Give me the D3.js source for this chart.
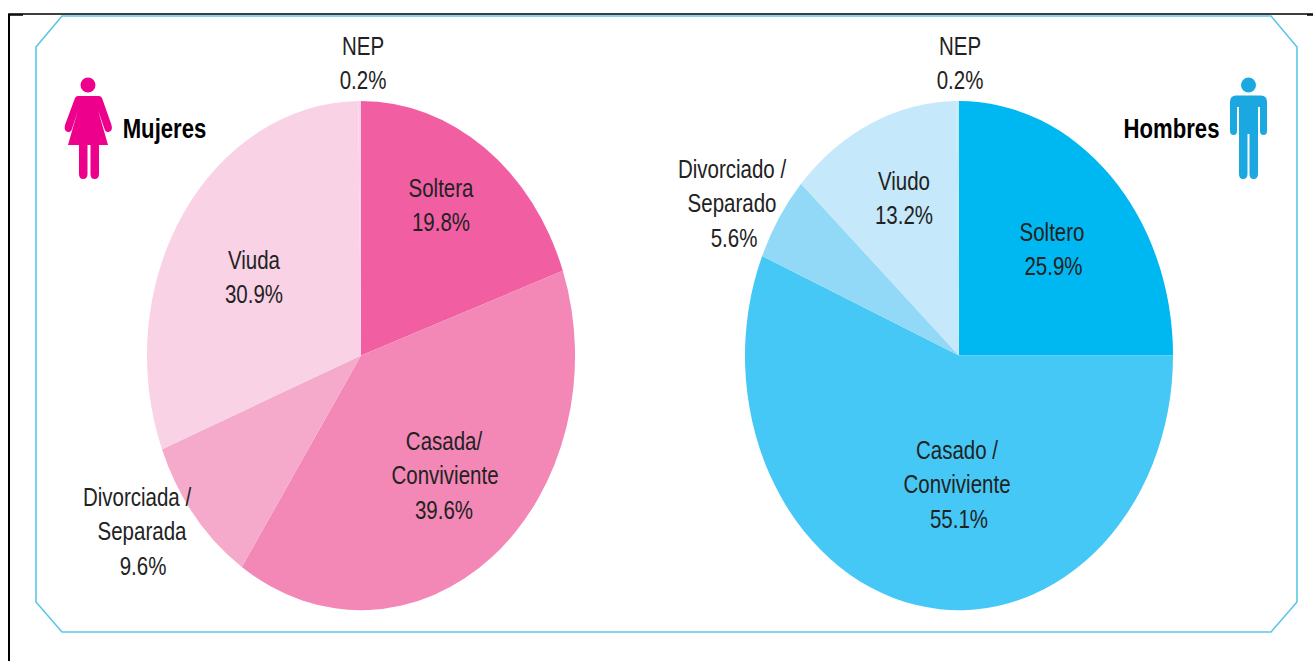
<!DOCTYPE html>
<html><head><meta charset="utf-8">
<script src="https://cdnjs.cloudflare.com/ajax/libs/d3/7.8.5/d3.min.js"></script>
<style>
html,body{margin:0;padding:0;background:#fff;overflow:hidden}
text{font-family:"Liberation Sans",Arial,sans-serif;fill:#222;font-size:25px;text-anchor:middle}
</style></head><body>
<svg id="c" width="1313" height="661"></svg>
<script>
// Printed percentages, as they read in the picture
const womenCategories=["Soltera","Casada/ Conviviente","Divorciada / Separada","Viuda","NEP"];
const womenLabels=["19.8%","39.6%","9.6%","30.9%","0.2%"];
const menCategories=["Soltero","Casado / Conviviente","Divorciado / Separado","Viudo","NEP"];
const menLabels=["25.9%","55.1%","5.6%","13.2%","0.2%"];
// Slice shares as actually drawn in the picture (they differ slightly from the printed figures)
const womenValues=[19.6,39.8,9.6,30.8,0.2];
const menValues=[25.0,56.4,5.4,13.0,0.2];
const womenColors=["#f15ea2","#f387b6","#f5aacb","#f9d2e6","#f9d2e6"];
const menColors=["#00b8f1","#45c8f6","#92d9f7","#c5e8fa","#c5e8fa"];

const svg=d3.select("#c");
// page frame
svg.append("path").attr("d","M9 661V14H1313").attr("fill","none").attr("stroke","#000").attr("stroke-width",1.6);
svg.append("path").attr("d","M9 15H23M1307 15H1313").attr("fill","none").attr("stroke","#000").attr("stroke-width",1.6);
svg.append("path").attr("d","M9 14V661").attr("fill","none").attr("stroke","#000").attr("stroke-width",2);
// octagonal panel
const panel=[[36,47],[62,16],[1271,16],[1297,47],[1297,602],[1271,632],[62,632],[36,602]];
svg.append("path").attr("d",d3.line()(panel)+"Z").attr("fill","#fff").attr("stroke","#5cc6e6").attr("stroke-width",1.6);

const pie=d3.pie().sort(null).value(d=>d);
const arc=d3.arc().innerRadius(0).outerRadius(1);
function drawPie(cx,values,colors){
  const g=svg.append("g").attr("transform",`translate(${cx},355.5) scale(214,254.5)`);
  g.selectAll("path").data(pie(values)).join("path").attr("d",arc).attr("fill",(d,i)=>colors[i]);
}
drawPie(361,womenValues,womenColors);
drawPie(959,menValues,menColors);

const sx=0.82;
function label(x,y,lines,offsets){
  const t=svg.append("text").attr("transform",`translate(${x},${y}) scale(${sx},1)`);
  lines.forEach((l,i)=>t.append("tspan").attr("x",((offsets&&offsets[i])||0)/sx).attr("y",i*34.5).text(l));
}
label(363,55,[womenCategories[4],womenLabels[4]]);
label(960,55,[menCategories[4],menLabels[4]]);
label(441,197,[womenCategories[0],womenLabels[0]]);
label(445,450,["Casada/","Conviviente",womenLabels[1]],[-1,0,-1]);
label(138,506,["Divorciada /","Separada",womenLabels[2]],[-1,4,5]);
label(254,269,[womenCategories[3],womenLabels[3]]);
label(1052,241,[menCategories[0],menLabels[0]],[0,1.5]);
label(957,459,["Casado /","Conviviente",menLabels[1]],[0,0,2]);
label(732,178,["Divorciado /","Separado",menLabels[2]],[0,0,2]);
label(904,190,[menCategories[3],menLabels[3]]);
svg.append("text").attr("transform",`translate(164.5,138) scale(${sx},1)`).style("font-weight","bold").style("font-size","27px").style("fill","#000").text("Mujeres");
svg.append("text").attr("transform",`translate(1171.5,138) scale(${sx},1)`).style("font-weight","bold").style("font-size","27px").style("fill","#000").text("Hombres");

// pictograms
const woman=svg.append("g").attr("fill","#ec008c");
woman.append("circle").attr("cx",88).attr("cy",85).attr("r",7.5);
woman.append("path").attr("d","M78 96H99Q101 96 102 98L111.5 125Q113 131 108.5 132Q105.5 132.5 104.5 129L98 110L108 145H68L78 110L72 129Q71 132.5 68 132Q63.5 131 65 125L75 98Q76 96 78 96Z");
woman.append("path").attr("d","M79 145H87.5V174Q87.5 179 83 179Q79 179 79 174Z");
woman.append("path").attr("d","M90.5 145H99V174Q99 179 94.5 179Q90.5 179 90.5 174Z");
const man=svg.append("g").attr("fill","#1ba7e0");
man.append("circle").attr("cx",1248.5).attr("cy",85).attr("r",7.5);
man.append("path").attr("d","M1236 95.5H1261Q1267 95.5 1267 102V131Q1267 135 1263.5 135Q1260 135 1260 131V107H1258V174Q1258 179 1253.5 179Q1249.5 179 1249.5 174V134H1247.5V174Q1247.5 179 1243 179Q1239 179 1239 174V107H1237V131Q1237 135 1233.5 135Q1230 135 1230 131V102Q1230 95.5 1236 95.5Z");
</script></body></html>
